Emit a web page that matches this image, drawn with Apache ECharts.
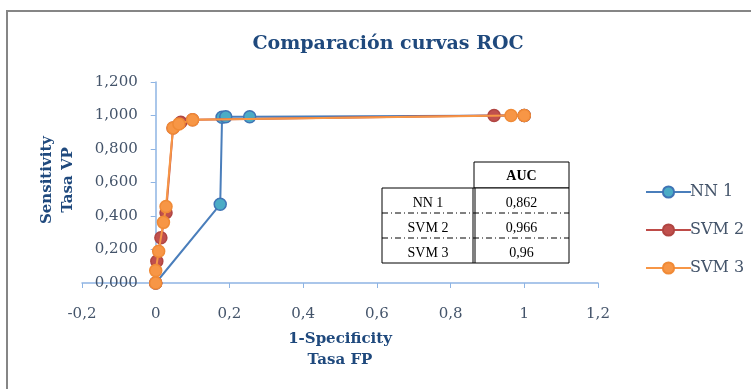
<!DOCTYPE html>
<html>
<head>
<meta charset="utf-8">
<script src="https://cdn.jsdelivr.net/npm/echarts@6/dist/echarts.min.js"></script>
<style>
  html, body { margin: 0; padding: 0; background: #fff; }
  #chart { width: 751px; height: 389px; }
</style>
</head>
<body>
<div id="chart"></div>
<script>
// datos de las curvas ROC [tasa FP, tasa VP]
var nn1 = [[0, 0], [0.175, 0.47], [0.18, 0.99], [0.19, 0.993], [0.255, 0.993], [1, 1]]
var svm2 = [[0, 0], [0.003, 0.13], [0.014, 0.27], [0.028, 0.42], [0.047, 0.925], [0.068, 0.96], [0.1, 0.975], [0.918, 1], [1, 1]]
var svm3 = [[0, 0], [0, 0.074], [0.008, 0.19], [0.021, 0.362], [0.028, 0.456], [0.047, 0.926], [0.063, 0.95], [0.1, 0.974], [0.964, 1], [1, 1]]
var seriesNames = ['NN 1', 'SVM 2', 'SVM 3']
// tabla AUC
var aucModels = ['NN 1', 'SVM 2', 'SVM 3']
var aucValues = ['0,862', '0,966', '0,96']
// ejes
var xTicks = { min: -0.2, max: 1.2, step: 0.2 }
var yTicks = { min: 0, max: 1.2, step: 0.2 }
var yName = 'Sensitivity\nTasa VP'

var labelColor = '#44546A'
var nameColor = '#1F497D'
var axisColor = '#8EB4E3'
var serif = 'DejaVu Serif'

var gridLeft = 82, gridRight = 153
// el eje Y cruza en x = 0
var yAxisShift = (0 - xTicks.min) / (xTicks.max - xTicks.min) * (751 - gridLeft - gridRight)

var myChart = echarts.init(document.getElementById('chart'))

// tabla dibujada con graphic
var tLeft = 382, tMid = 474, tRight = 569, tHeadTop = 162, tTop = 188, rowH = 25
var tableEls = []
tableEls.push({ type: 'rect', shape: { x: tMid, y: tHeadTop, width: tRight - tMid, height: tTop - tHeadTop }, style: { fill: '#fff', stroke: '#000', lineWidth: 1 } })
tableEls.push({ type: 'rect', shape: { x: tLeft, y: tTop, width: tRight - tLeft, height: rowH * aucModels.length }, style: { fill: '#fff', stroke: '#000', lineWidth: 1 } })
tableEls.push({ type: 'line', shape: { x1: tMid - 1, y1: tTop, x2: tMid - 1, y2: tTop + rowH * aucModels.length }, style: { stroke: '#000', lineWidth: 1 } })
tableEls.push({ type: 'line', shape: { x1: tMid + 1, y1: tTop, x2: tMid + 1, y2: tTop + rowH * aucModels.length }, style: { stroke: '#000', lineWidth: 1 } })
tableEls.push({ type: 'text', style: { x: (tMid + tRight) / 2, y: (tHeadTop + tTop) / 2 + 1, text: 'AUC', fill: '#000', font: 'bold 14px Liberation Serif', align: 'center', verticalAlign: 'middle' } })
aucModels.forEach(function (m, i) {
  var cy = tTop + rowH * i + rowH / 2 + 3
  tableEls.push({ type: 'text', style: { x: (tLeft + tMid) / 2, y: cy, text: m, fill: '#000', font: '14px Liberation Serif', align: 'center', verticalAlign: 'middle' } })
  tableEls.push({ type: 'text', style: { x: (tMid + tRight) / 2, y: cy, text: aucValues[i], fill: '#000', font: '14px Liberation Serif', align: 'center', verticalAlign: 'middle' } })
  if (i > 0) {
    tableEls.push({ type: 'line', shape: { x1: tLeft, y1: tTop + rowH * i, x2: tRight, y2: tTop + rowH * i }, style: { stroke: '#000', lineWidth: 1, lineDash: [6, 3, 1, 3] } })
  }
})

var fmtX = function (v) { return String(Math.round(v * 10) / 10).replace('.', ',') }
var fmtY = function (v) { return v.toFixed(3).replace('.', ',') }

var makeSeries = function (name, data, lineColor, fillColor, borderColor, z) {
  return {
    name: name,
    type: 'line',
    data: data,
    z: z,
    symbol: 'circle',
    symbolSize: 12,
    lineStyle: { color: lineColor, width: 2 },
    itemStyle: { color: fillColor, borderColor: borderColor, borderWidth: 1.5 }
  }
}

myChart.setOption({
  animation: false,
  backgroundColor: '#fff',
  title: {
    text: 'Comparación curvas ROC',
    left: 383,
    top: 30,
    textAlign: 'center',
    textStyle: { fontFamily: serif, fontWeight: 'bold', fontSize: 19, color: nameColor }
  },
  legend: {
    orient: 'vertical',
    left: 640,
    top: 179,
    itemWidth: 45,
    itemHeight: 14,
    itemGap: 22,
    data: seriesNames,
    textStyle: { fontFamily: serif, fontSize: 16, color: labelColor, padding: [0, 0, 0, -6] }
  },
  grid: {
    left: gridLeft,
    right: gridRight,
    top: 82,
    bottom: 106,
    outerBoundsMode: 'none'
  },
  xAxis: {
    type: 'value',
    min: xTicks.min,
    max: xTicks.max,
    interval: xTicks.step,
    name: '1-Specificity\nTasa FP',
    nameLocation: 'middle',
    nameGap: 46,
    nameTextStyle: { fontFamily: serif, fontWeight: 'bold', fontSize: 15, color: nameColor, lineHeight: 21 },
    axisLine: { onZero: false, lineStyle: { color: axisColor, width: 1.5 } },
    axisTick: { show: true, length: 5, lineStyle: { color: axisColor } },
    axisLabel: { margin: 24, fontFamily: serif, fontSize: 15, color: labelColor, formatter: fmtX },
    splitLine: { show: false }
  },
  yAxis: {
    type: 'value',
    min: yTicks.min,
    max: yTicks.max,
    interval: yTicks.step,
    offset: -yAxisShift,
    axisLine: { onZero: false, lineStyle: { color: axisColor, width: 1.5 } },
    axisTick: { show: true, length: 5, lineStyle: { color: axisColor } },
    axisLabel: { margin: 18, fontFamily: serif, fontSize: 15, color: labelColor, formatter: fmtY },
    splitLine: { show: false }
  },
  graphic: [
    { type: 'line', shape: { x1: 7, y1: 11, x2: 751, y2: 11 }, style: { stroke: '#868686', lineWidth: 2 } },
    { type: 'line', shape: { x1: 7, y1: 10, x2: 7, y2: 389 }, style: { stroke: '#868686', lineWidth: 2 } },
    // titulo del eje Y
    {
      type: 'text',
      x: 58,
      y: 180,
      rotation: Math.PI / 2,
      style: { text: yName, fill: nameColor, font: 'bold 15px DejaVu Serif', lineHeight: 21, align: 'center', verticalAlign: 'middle' }
    },
    { type: 'group', children: tableEls }
  ],
  series: [
    makeSeries(seriesNames[0], nn1, '#4A7EBB', '#4BACC6', '#3F74B5', 2),
    makeSeries(seriesNames[1], svm2, '#BE4B48', '#C0504D', '#B04542', 3),
    makeSeries(seriesNames[2], svm3, '#F79646', '#F79646', '#F08A36', 4)
  ]
})
</script>
</body>
</html>
